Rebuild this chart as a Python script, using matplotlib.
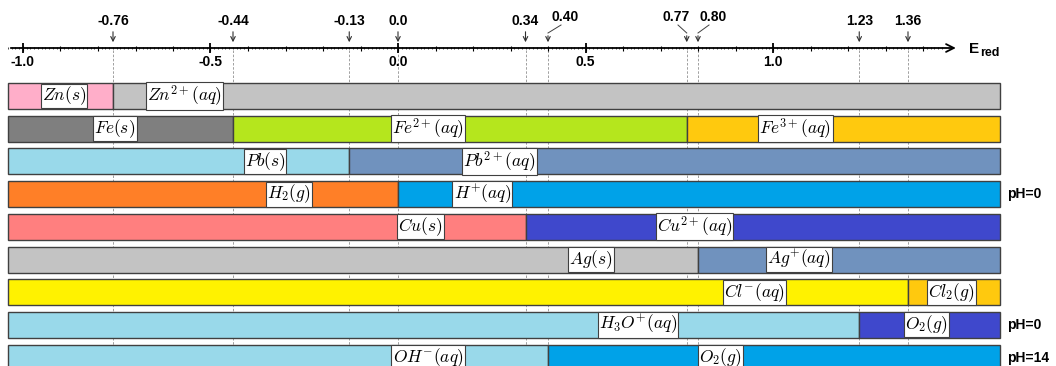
import numpy as np
import matplotlib
matplotlib.use("Agg")
import matplotlib.pyplot as plt

plt.rcParams['mathtext.fontset'] = 'cm'

# redox potentials marked on the axis (V)
potentials = [-0.76, -0.44, -0.13, 0.0, 0.34, 0.40, 0.77, 0.80, 1.23, 1.36]
pot_labels = ['-0.76', '-0.44', '-0.13', '0.0', '0.34', '0.40', '0.77', '0.80', '1.23', '1.36']
major_ticks = [-1.0, -0.5, 0.0, 0.5, 1.0]
major_labels = ['-1.0', '-0.5', '0.0', '0.5', '1.0']

# one row per couple: boundaries, species, colours, label positions
row_bounds = [[-0.76], [-0.44, 0.77], [-0.13], [0.0], [0.34], [0.80], [1.36], [1.23], [0.40]]
row_species = [
    [r'$Zn(s)$', r'$Zn^{2+}(aq)$'],
    [r'$Fe(s)$', r'$Fe^{2+}(aq)$', r'$Fe^{3+}(aq)$'],
    [r'$Pb(s)$', r'$Pb^{2+}(aq)$'],
    [r'$H_2(g)$', r'$H^{+}(aq)$'],
    [r'$Cu(s)$', r'$Cu^{2+}(aq)$'],
    [r'$Ag(s)$', r'$Ag^{+}(aq)$'],
    [r'$Cl^{-}(aq)$', r'$Cl_2(g)$'],
    [r'$H_3O^{+}(aq)$', r'$O_2(g)$'],
    [r'$OH^{-}(aq)$', r'$O_2(g)$'],
]
row_colors = [
    ['#FFAEC9', '#C3C3C3'],
    ['#7F7F7F', '#B5E61D', '#FFC90E'],
    ['#99D9EA', '#7092BE'],
    ['#FF7F27', '#00A2E8'],
    ['#FF7F7F', '#3F48CC'],
    ['#C3C3C3', '#7092BE'],
    ['#FFF200', '#FFC90E'],
    ['#99D9EA', '#3F48CC'],
    ['#99D9EA', '#00A2E8'],
]
row_label_x = [
    [-0.89, -0.57],
    [-0.755, 0.08, 1.06],
    [-0.355, 0.27],
    [-0.29, 0.225],
    [0.06, 0.79],
    [0.515, 1.07],
    [0.95, 1.475],
    [0.64, 1.41],
    [0.08, 0.86],
]
ph_labels = {3: 'pH=0', 7: 'pH=0', 8: 'pH=14'}

x_start, x_end = -1.04, 1.605

# pixel helpers: x in volts, y in pixels from top
px0, scale = 398.0, 375.0
fig = plt.figure(figsize=(10.56, 3.66), dpi=100)
ax = fig.add_axes([0, 0, 1, 1])
ax.set_xlim((0 - px0) / scale, (1056 - px0) / scale)
ax.set_ylim(366, 0)
ax.axis('off')

axis_y = 48
row_y0, row_dy, bar_h = 96, 32.7, 26
sans = 'Liberation Sans'

# dashed guide lines
for p in potentials:
    ax.plot([p, p], [axis_y + 2, 366], color='#909090', lw=0.6, ls=(0, (3, 2)), zorder=1)

# axis with arrow
ax.annotate('', xy=(1.495, axis_y), xytext=(x_start, axis_y),
            arrowprops=dict(arrowstyle='->', color='black', lw=1.3, mutation_scale=14), zorder=3)
fine = np.round(np.arange(-1.04, 1.45, 0.01), 2)
ax.vlines(fine, axis_y - 1.2, axis_y + 1.2, color='black', lw=0.5, zorder=3)
tenths = np.round(np.arange(-1.0, 1.45, 0.1), 2)
ax.vlines(tenths, axis_y - 2.5, axis_y + 2.5, color='black', lw=0.8, zorder=3)
ax.vlines(major_ticks, axis_y - 5, axis_y + 5, color='black', lw=1.3, zorder=3)
for t, lab in zip(major_ticks, major_labels):
    ax.text(t, 62, lab, ha='center', va='center', fontsize=10, fontweight='bold', family=sans)
ax.text(1.523, 49, 'E', ha='left', va='center', fontsize=11, fontweight='bold', family=sans)
ax.text(1.552, 53, 'red', ha='left', va='center', fontsize=9, fontweight='bold', family=sans)

# potential labels and arrows (bent ones get a label offset and knee)
label_pos = {0.40: (565, 17), 0.77: (676, 17), 0.80: (713, 17)}
knees = {0.40: (561, 25), 0.77: (678, 25), 0.80: (709, 25)}
for p, lab in zip(potentials, pot_labels):
    if p in label_pos:
        lx, ly = label_pos[p]
        kx, ky = knees[p]
        ax.text((lx - px0) / scale, ly, lab, ha='center', va='center', fontsize=10,
                fontweight='bold', family=sans)
        ax.plot([(kx - px0) / scale, p], [ky, 33], color='#404040', lw=0.7, zorder=3)
        ax.annotate('', xy=(p, axis_y - 3), xytext=(p, 33),
                    arrowprops=dict(arrowstyle='->', color='#303030', lw=0.8, mutation_scale=8))
    else:
        ax.text(p, 21, lab, ha='center', va='center', fontsize=10, fontweight='bold', family=sans)
        ax.annotate('', xy=(p, axis_y - 3), xytext=(p, 29),
                    arrowprops=dict(arrowstyle='->', color='#303030', lw=0.8, mutation_scale=8))

# rows
for i in range(len(row_bounds)):
    yc = row_y0 + i * row_dy
    edges = [x_start] + row_bounds[i] + [x_end]
    for j in range(len(edges) - 1):
        ax.add_patch(plt.Rectangle((edges[j], yc - bar_h / 2), edges[j + 1] - edges[j], bar_h,
                                   facecolor=row_colors[i][j], edgecolor='#404040', lw=1, zorder=2))
        ax.text(row_label_x[i][j], yc, row_species[i][j], ha='center', va='center', fontsize=12.5,
                zorder=4, bbox=dict(boxstyle='square,pad=0.06', facecolor='white',
                                    edgecolor='#404040', lw=0.8))
    if i in ph_labels:
        ax.text((1007 - px0) / scale, yc, ph_labels[i], ha='left', va='center', fontsize=10,
                fontweight='bold', family=sans)

fig.savefig('out.png', dpi=100)
